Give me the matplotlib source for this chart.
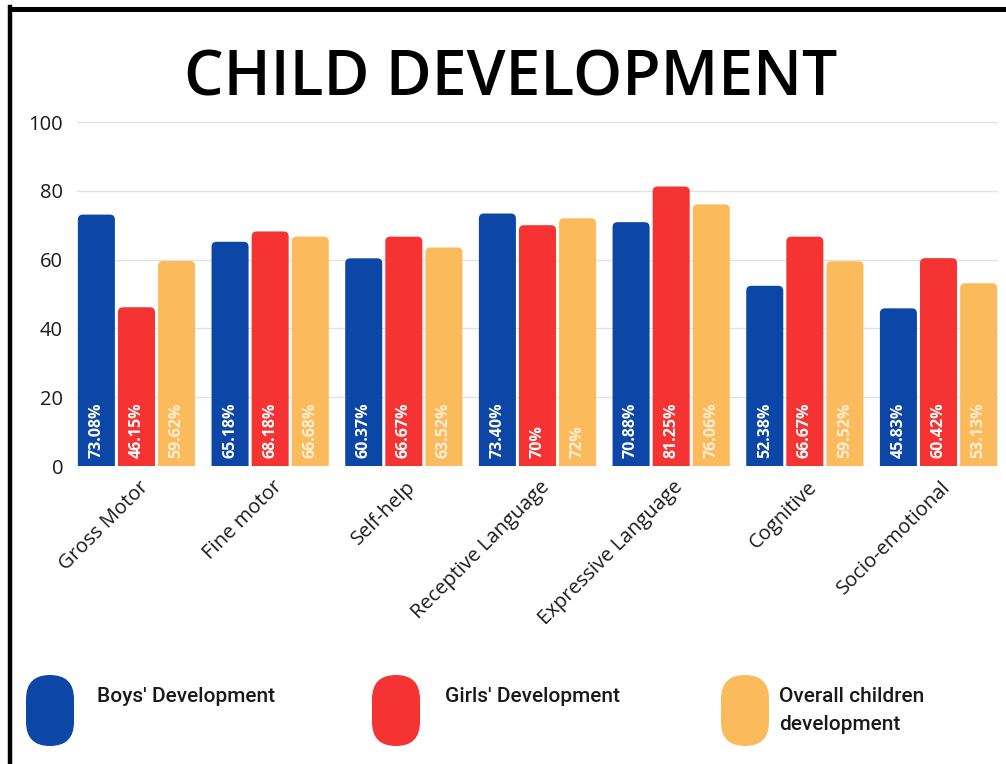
import numpy as np
import matplotlib.pyplot as plt
from matplotlib.patches import FancyBboxPatch
from matplotlib.lines import Line2D
from matplotlib.transforms import ScaledTranslation

# data
categories = ["Gross Motor", "Fine motor", "Self-help", "Receptive Language",
              "Expressive Language", "Cognitive", "Socio-emotional"]
boys = [73.08, 65.18, 60.37, 73.40, 70.88, 52.38, 45.83]
girls = [46.15, 68.18, 66.67, 70, 81.25, 66.67, 60.42]
overall = [59.62, 66.68, 63.52, 72, 76.06, 59.52, 53.13]
boys_lbl = ["73.08%", "65.18%", "60.37%", "73.40%", "70.88%", "52.38%", "45.83%"]
girls_lbl = ["46.15%", "68.18%", "66.67%", "70%", "81.25%", "66.67%", "60.42%"]
overall_lbl = ["59.62%", "66.68%", "63.52%", "72%", "76.06%", "59.52%", "53.13%"]
series_names = ["Boys' Development", "Girls' Development", "Overall children\ndevelopment"]

colors = ["#0C47A7", "#F63333", "#FBBA5B"]
label_colors = ["white", "white", "#FFF0D6"]

plt.rcParams['font.family'] = ['Open Sans', 'DejaVu Sans']

fig = plt.figure(figsize=(10.06, 7.64), dpi=100)
W, H = 1006, 764
# axes placed in pixel coords of the reference
ax = fig.add_axes([77 / W, (H - 466) / H, (998 - 77) / W, (466 - 122) / H])
ax.set_xlim(-0.445, 6.445)
ax.set_ylim(0, 100)

x = np.arange(len(categories))
width = 0.277
offset = 0.3

# rounding radius in data units (about 5 px)
px_x = (998 - 77) / 6.89
px_y = (466 - 122) / 100
r = 5 / px_x
aspect = px_x / px_y

for i, (vals, lbls) in enumerate(zip([boys, girls, overall], [boys_lbl, girls_lbl, overall_lbl])):
    bars = ax.bar(x + (i - 1) * offset, vals, width, color=colors[i], zorder=2)
    for b, lb in zip(bars, lbls):
        bx, bw, bh = b.get_x(), b.get_width(), b.get_height()
        b.set_visible(False)
        p = FancyBboxPatch((bx, -3), bw, bh + 3,
                           boxstyle="round,pad=0,rounding_size=%f" % r,
                           mutation_aspect=aspect, facecolor=colors[i],
                           edgecolor="none", zorder=2)
        ax.add_patch(p)
        ax.text(bx + bw / 2, 2.2, lb, rotation=90, ha="center", va="bottom",
                color=label_colors[i], fontsize=11.5, fontweight="bold", zorder=3)

ax.set_yticks([0, 20, 40, 60, 80, 100])
ax.yaxis.grid(True, color="#e2e2e2", linewidth=1, zorder=0)
ax.set_axisbelow(True)
for s in ax.spines.values():
    s.set_visible(False)
ax.tick_params(axis="y", length=0, pad=10, labelsize=14.5, labelcolor="#1a1a1a")
ax.tick_params(axis="x", length=0, pad=13)
ax.set_xticks(x)
ax.set_xticklabels(categories, rotation=45, ha="right", va="center",
                   rotation_mode="anchor", fontsize=14.5, color="#1a1a1a")
shift = ScaledTranslation(9 / 100, 0, fig.dpi_scale_trans)
for t in ax.get_xticklabels():
    t.set_transform(t.get_transform() + shift)

# title
fig.text(511 / W, 1 - 79 / H, "CHILD DEVELOPMENT", ha="center", va="center",
         fontsize=45, fontweight="semibold", color="black")

# legend with pill shapes
pill_x = [26, 372, 721]
text_x = [97, 445, 779]
for i in range(3):
    px0 = pill_x[i]
    pill = FancyBboxPatch((px0 / W, (H - 746) / H), 48 / W, 71 / H,
                          boxstyle="round,pad=0,rounding_size=%f" % (24 / W),
                          mutation_aspect=W / H, transform=fig.transFigure,
                          facecolor=colors[i], edgecolor="none")
    fig.patches.append(pill)
    fig.text(text_x[i] / W, 1 - 687 / H, series_names[i], ha="left", va="top",
             fontsize=15, fontweight="medium", family=["Roboto", "DejaVu Sans"],
             color="#1a1a1a", linespacing=1.6)

# black frame on left and top
fig.add_artist(Line2D([10 / W, 10 / W], [0, 1 - 7 / H], color="black", linewidth=3.2,
                      transform=fig.transFigure, solid_capstyle="projecting"))
fig.add_artist(Line2D([10 / W, 1], [1 - 9 / H, 1 - 9 / H], color="black", linewidth=3.6,
                      transform=fig.transFigure, solid_capstyle="projecting"))

plt.savefig("out.png", dpi=100)
